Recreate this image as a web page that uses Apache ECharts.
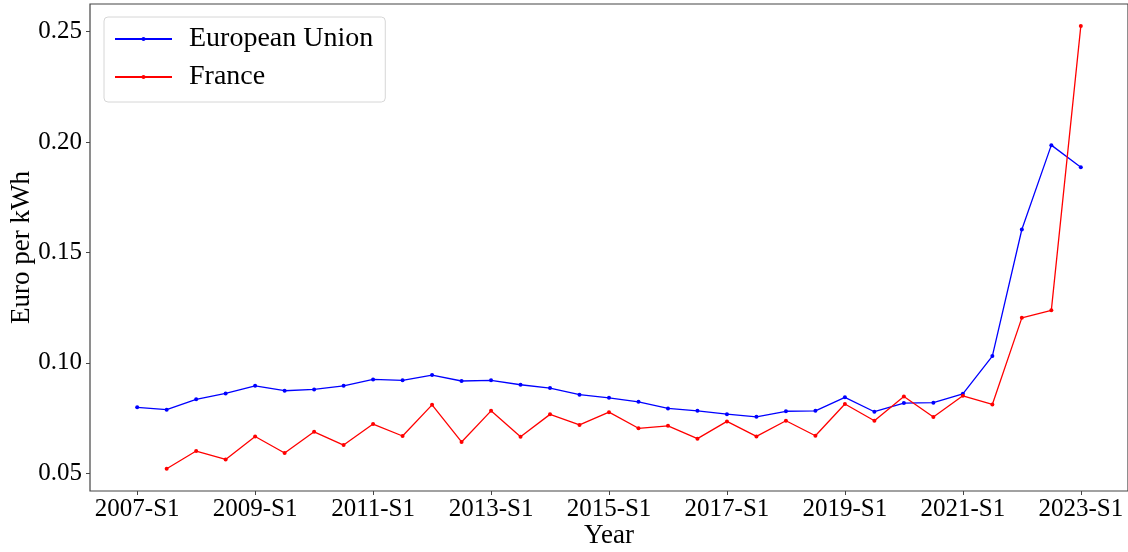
<!DOCTYPE html>
<html>
<head>
<meta charset="utf-8">
<script src="https://cdn.jsdelivr.net/npm/echarts@6/dist/echarts.min.js"></script>
<style>
  html, body { margin: 0; padding: 0; background: #fff; }
  #chart { width: 1128px; height: 552px; }
</style>
</head>
<body>
<div id="chart"></div>
<script>
// semester labels, one per data point
const periods = [
  '2007-S1', '2007-S2', '2008-S1', '2008-S2', '2009-S1', '2009-S2', '2010-S1', '2010-S2',
  '2011-S1', '2011-S2', '2012-S1', '2012-S2', '2013-S1', '2013-S2', '2014-S1', '2014-S2',
  '2015-S1', '2015-S2', '2016-S1', '2016-S2', '2017-S1', '2017-S2', '2018-S1', '2018-S2',
  '2019-S1', '2019-S2', '2020-S1', '2020-S2', '2021-S1', '2021-S2', '2022-S1', '2022-S2',
  '2023-S1'
]

const euPrice = [
  0.0799, 0.0788, 0.0835, 0.0862, 0.0896, 0.0874, 0.0880, 0.0896,
  0.0925, 0.0921, 0.0945, 0.0918, 0.0921, 0.0901, 0.0886, 0.0856,
  0.0842, 0.0824, 0.0794, 0.0783, 0.0768, 0.0756, 0.0781, 0.0783,
  0.0844, 0.0779, 0.0818, 0.0820, 0.0860, 0.1031, 0.1604, 0.1986,
  0.1886
]

// France has no value for the first semester
const francePrice = [
  null, 0.0521, 0.0601, 0.0563, 0.0667, 0.0592, 0.0688, 0.0628,
  0.0723, 0.0669, 0.0810, 0.0642, 0.0783, 0.0666, 0.0767, 0.0719,
  0.0777, 0.0704, 0.0715, 0.0657, 0.0735, 0.0667, 0.0738, 0.0670,
  0.0814, 0.0738, 0.0848, 0.0755, 0.0851, 0.0812, 0.1204, 0.1238,
  0.2525
]

const xTicks = [0, 4, 8, 12, 16, 20, 24, 28, 32]
const yTicks = [0.05, 0.10, 0.15, 0.20, 0.25]

const font = 'Liberation Serif'

const toPairs = (arr) => arr.map((v, i) => [i, v]).filter((p) => p[1] !== null)

const chart = echarts.init(document.getElementById('chart'))

const option = {
  animation: false,
  textStyle: { fontFamily: font },
  grid: {
    left: 90,
    right: 0,
    top: 4,
    bottom: 61,
    containLabel: false,
    outerBoundsMode: 'none',
    show: true,
    borderColor: '#444',
    borderWidth: 1.2,
    backgroundColor: 'transparent'
  },
  legend: {
    orient: 'vertical',
    left: 104,
    top: 17,
    itemWidth: 57,
    itemHeight: 5,
    itemGap: 10,
    padding: [8, 12, 11, 10],
    backgroundColor: '#fff',
    borderColor: '#d6d6d6',
    borderWidth: 1,
    borderRadius: 4,
    textStyle: { fontFamily: font, fontSize: 28, color: '#000', padding: [0, 0, 0, 12] },
    data: ['European Union', 'France']
  },
  xAxis: {
    type: 'value',
    min: -1.6,
    max: 33.6,
    name: 'Year',
    nameLocation: 'middle',
    nameGap: 31,
    nameMoveOverlap: false,
    nameTextStyle: { fontFamily: font, fontSize: 27, color: '#000' },
    axisLine: { show: false, onZero: false },
    axisTick: {
      show: true,
      length: 4,
      customValues: xTicks,
      lineStyle: { color: '#444', width: 1 }
    },
    axisLabel: {
      customValues: xTicks,
      fontFamily: font,
      fontSize: 25,
      color: '#000',
      margin: 6,
      formatter: (v) => periods[Math.round(v)] || ''
    },
    splitLine: { show: false }
  },
  yAxis: {
    type: 'value',
    min: 0.042,
    max: 0.2625,
    name: 'Euro per kWh',
    nameLocation: 'middle',
    nameRotate: 90,
    nameGap: 55,
    nameMoveOverlap: false,
    nameTextStyle: { fontFamily: font, fontSize: 27, color: '#000' },
    axisLine: { show: false, onZero: false },
    axisTick: {
      show: true,
      length: 4,
      customValues: yTicks,
      lineStyle: { color: '#444', width: 1 }
    },
    axisLabel: {
      customValues: yTicks,
      fontFamily: font,
      fontSize: 25,
      color: '#000',
      margin: 8,
      formatter: (v) => v.toFixed(2)
    },
    splitLine: { show: false }
  },
  series: [
    {
      name: 'European Union',
      type: 'line',
      data: toPairs(euPrice),
      color: '#0000ff',
      symbol: 'circle',
      symbolSize: 4,
      showAllSymbol: true,
      lineStyle: { width: 1.3, color: '#0000ff' },
      itemStyle: { color: '#0000ff' }
    },
    {
      name: 'France',
      type: 'line',
      data: toPairs(francePrice),
      color: '#ff0000',
      symbol: 'circle',
      symbolSize: 4,
      showAllSymbol: true,
      lineStyle: { width: 1.3, color: '#ff0000' },
      itemStyle: { color: '#ff0000' }
    }
  ]
}

chart.setOption(option)
</script>
</body>
</html>
